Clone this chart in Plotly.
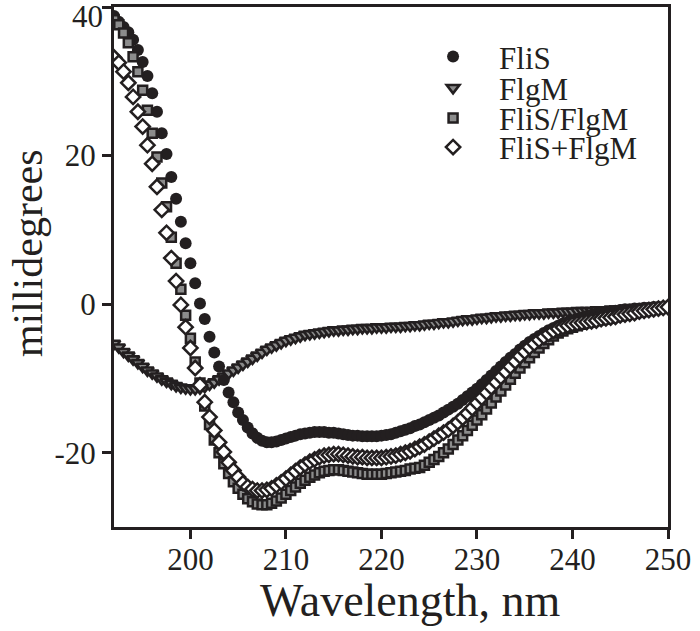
import numpy as np
import plotly.graph_objects as go

# wavelengths sampled every 0.5 nm, 192-250 nm
wavelength = np.arange(192.0, 250.25, 0.5)

flis = [
    38.8, 38.0, 37.3, 36.6, 35.6, 34.2, 32.6, 30.7, 28.4, 25.9,
    23.0, 20.2, 17.1, 14.2, 11.1, 8.2, 5.5, 2.8, 0.1, -2.0,
    -4.4, -6.5, -8.4, -10.2, -11.9, -13.2, -14.6, -15.6, -16.6, -17.4,
    -18.0, -18.4, -18.6, -18.6, -18.5, -18.3, -18.1, -17.9, -17.7, -17.5,
    -17.4, -17.3, -17.2, -17.2, -17.2, -17.3, -17.3, -17.4, -17.5, -17.6,
    -17.7, -17.7, -17.8, -17.8, -17.8, -17.8, -17.7, -17.6, -17.5, -17.3,
    -17.1, -16.9, -16.7, -16.4, -16.2, -15.9, -15.6, -15.3, -15.0, -14.6,
    -14.2, -13.8, -13.4, -12.9, -12.4, -11.9, -11.4, -10.8, -10.2, -9.6,
    -9.0, -8.4, -7.8, -7.2, -6.7, -6.1, -5.6, -5.1, -4.7, -4.3,
    -3.9, -3.5, -3.2, -2.9, -2.6, -2.4, -2.2, -2.0, -1.8, -1.6,
    -1.5, -1.3, -1.2, -1.1, -1.0, -0.9, -0.8, -0.7, -0.7, -0.6,
    -0.6, -0.5, -0.5, -0.4, -0.4, -0.4, -0.3,
]

flgm = [
    -5.3, -5.8, -6.4, -6.9, -7.4, -7.9, -8.4, -8.9, -9.3, -9.7,
    -10.1, -10.4, -10.7, -11.0, -11.2, -11.3, -11.4, -11.4, -11.3, -11.1,
    -10.8, -10.5, -10.1, -9.7, -9.3, -8.9, -8.5, -8.1, -7.7, -7.3,
    -6.9, -6.5, -6.1, -5.8, -5.5, -5.2, -4.9, -4.7, -4.5, -4.3,
    -4.1, -4.0, -3.9, -3.8, -3.7, -3.6, -3.5, -3.5, -3.4, -3.4,
    -3.3, -3.3, -3.2, -3.2, -3.2, -3.1, -3.1, -3.1, -3.0, -3.0,
    -3.0, -2.9, -2.9, -2.8, -2.8, -2.7, -2.6, -2.6, -2.5, -2.4,
    -2.4, -2.3, -2.2, -2.1, -2.0, -2.0, -1.9, -1.8, -1.8, -1.7,
    -1.6, -1.6, -1.5, -1.5, -1.4, -1.4, -1.3, -1.3, -1.2, -1.2,
    -1.2, -1.1, -1.1, -1.1, -1.0, -1.0, -1.0, -0.9, -0.9, -0.9,
    -0.9, -0.8, -0.8, -0.8, -0.7, -0.7, -0.7, -0.6, -0.6, -0.6,
    -0.5, -0.5, -0.5, -0.4, -0.4, -0.4, -0.3,
]

flis_slash_flgm = [
    38.3, 37.6, 36.5, 35.2, 33.3, 31.3, 28.8, 26.1, 23.0, 19.8,
    16.3, 13.1, 9.0, 5.5, 2.0, -1.5, -4.6, -7.8, -10.6, -13.7,
    -16.2, -18.3, -20.0, -21.5, -22.8, -23.9, -24.8, -25.6, -26.2, -26.6,
    -26.9, -27.0, -27.0, -26.8, -26.5, -26.1, -25.6, -25.1, -24.6, -24.1,
    -23.7, -23.3, -23.0, -22.7, -22.5, -22.4, -22.3, -22.3, -22.4, -22.5,
    -22.6, -22.7, -22.8, -22.9, -22.9, -22.9, -22.9, -22.8, -22.7, -22.6,
    -22.5, -22.4, -22.2, -22.1, -22.0, -21.7, -21.3, -20.9, -20.5, -20.0,
    -19.5, -18.9, -18.3, -17.7, -17.0, -16.3, -15.6, -14.9, -14.1, -13.3,
    -12.5, -11.7, -10.9, -10.1, -9.3, -8.6, -7.9, -7.2, -6.5, -5.9,
    -5.3, -4.8, -4.3, -3.9, -3.6, -3.3, -3.1, -2.9, -2.7, -2.5,
    -2.4, -2.2, -2.1, -2.0, -1.9, -1.7, -1.6, -1.5, -1.3, -1.2,
    -1.1, -1.0, -0.8, -0.7, -0.6, -0.5, -0.4,
]

flis_plus_flgm = [
    33.2, 32.5, 31.3, 29.8, 27.9, 25.9, 23.9, 21.4, 18.9, 15.8,
    12.7, 9.6, 6.2, 3.1, -0.1, -3.1, -5.9, -8.6, -10.9, -13.2,
    -15.2, -17.0, -18.6, -19.9, -21.3, -22.4, -23.3, -24.1, -24.6, -24.9,
    -25.1, -25.1, -25.0, -24.8, -24.4, -24.0, -23.5, -23.0, -22.5, -22.0,
    -21.6, -21.2, -20.9, -20.6, -20.4, -20.3, -20.2, -20.2, -20.3, -20.4,
    -20.5, -20.6, -20.6, -20.7, -20.7, -20.7, -20.7, -20.6, -20.5, -20.4,
    -20.2, -20.0, -19.8, -19.5, -19.2, -18.9, -18.5, -18.1, -17.7, -17.3,
    -16.9, -16.4, -15.9, -15.3, -14.7, -14.0, -13.3, -12.6, -11.9, -11.2,
    -10.5, -9.8, -9.1, -8.4, -7.7, -7.0, -6.4, -5.8, -5.3, -4.8,
    -4.4, -4.0, -3.6, -3.3, -3.1, -2.9, -2.7, -2.6, -2.5, -2.4,
    -2.3, -2.2, -2.0, -1.9, -1.8, -1.7, -1.5, -1.4, -1.3, -1.2,
    -1.0, -0.9, -0.8, -0.7, -0.6, -0.5, -0.4,
]

x_ticks = [200, 210, 220, 230, 240, 250]
y_ticks = [-20, 0, 20, 40]
# the top label ("40") is placed as a separate annotation so it stays inside the page
y_tick_labels = ["-20", "0", "20", ""]
y_top_value = 40
y_top_label = "40"

SERIF = "Liberation Serif"
INK = "#231f20"

# one legend per entry so the row spacing can match the reference
LEG_X = 0.529
LEG_ROWS = {"legend": 0.904, "legend2": 0.844, "legend3": 0.786, "legend4": 0.730}

fig = go.Figure()

# draw order: FlgM, FliS, FliS/FlgM, FliS+FlgM
fig.add_trace(go.Scatter(
    x=wavelength, y=flgm, mode="markers", name="FlgM", legend="legend2",
    marker=dict(symbol="triangle-down", size=11, color="#8a8a8a",
                line=dict(color=INK, width=2.6)),
))
fig.add_trace(go.Scatter(
    x=wavelength, y=flis, mode="markers", name="FliS", legend="legend",
    marker=dict(symbol="circle", size=12, color=INK,
                line=dict(color=INK, width=0)),
))
fig.add_trace(go.Scatter(
    x=wavelength, y=flis_slash_flgm, mode="markers", name="FliS/FlgM", legend="legend3",
    marker=dict(symbol="square", size=9, color="#8c8c8c",
                line=dict(color=INK, width=2.5)),
))
fig.add_trace(go.Scatter(
    x=wavelength, y=flis_plus_flgm, mode="markers", name="FliS+FlgM", legend="legend4",
    marker=dict(symbol="diamond", size=11, color="white",
                line=dict(color=INK, width=2.5)),
))

legend_common = dict(
    x=LEG_X, xanchor="left", yanchor="middle",
    bgcolor="rgba(0,0,0,0)", borderwidth=0,
    font=dict(family=SERIF, size=31, color=INK),
    itemwidth=82,
)

fig.update_layout(
    width=700, height=631,
    margin=dict(l=114, r=32, t=7, b=104),
    paper_bgcolor="white", plot_bgcolor="white",
    font=dict(family=SERIF, color=INK),
    showlegend=True,
    xaxis=dict(
        range=[192, 250], tickvals=x_ticks,
        showgrid=False, zeroline=False, automargin=False,
        showline=True, linecolor=INK, linewidth=3, mirror=True,
        ticks="outside", ticklen=9, tickwidth=2.5, tickcolor=INK,
        ticklabeloverflow="allow", ticklabelstandoff=-6,
        tickfont=dict(family=SERIF, size=31, color=INK),
    ),
    yaxis=dict(
        range=[-30, 40], tickvals=y_ticks, ticktext=y_tick_labels,
        showgrid=False, zeroline=False, automargin=False,
        showline=True, linecolor=INK, linewidth=3, mirror=True,
        ticks="outside", ticklen=9, tickwidth=2.5, tickcolor=INK,
        ticklabeloverflow="allow",
        tickfont=dict(family=SERIF, size=31, color=INK),
    ),
    annotations=[
        dict(text="Wavelength, nm", xref="paper", yref="paper",
             x=0.535, y=-0.142, xanchor="center", yanchor="middle",
             showarrow=False, font=dict(family=SERIF, size=46, color=INK)),
        dict(text="millidegrees", xref="paper", yref="paper",
             x=-0.155, y=0.527, xanchor="center", yanchor="middle", textangle=-90,
             showarrow=False, font=dict(family=SERIF, size=42, color=INK)),
        dict(text=y_top_label, xref="paper", yref="y",
             x=0, y=y_top_value, xanchor="right", yanchor="middle",
             xshift=-9, yshift=-9,
             showarrow=False, font=dict(family=SERIF, size=31, color=INK)),
    ],
)
for name, ypos in LEG_ROWS.items():
    fig.update_layout({name: dict(legend_common, y=ypos)})

fig.write_html("out.html", config={"displayModeBar": False},
               post_script="document.body.style.margin='0px';")
